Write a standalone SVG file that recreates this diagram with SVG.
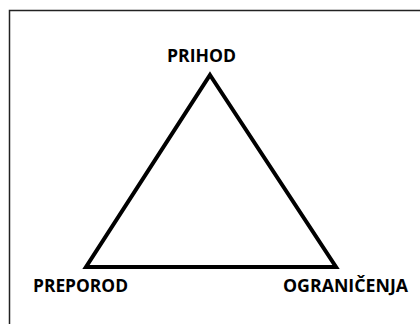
<svg xmlns="http://www.w3.org/2000/svg" width="420" height="324" viewBox="0 0 420 324">
<style>
.lbl{font-family:"Open Sans","Liberation Sans",sans-serif;font-weight:700;font-size:18px;fill:#000}
.edge{fill:none;stroke:#000;stroke-width:4;stroke-linejoin:miter}
</style>
<rect x="0" y="0" width="420" height="324" fill="#fff"/>
<rect x="9.5" y="10.5" width="420" height="320" fill="none" stroke="#222" stroke-width="1.5"/>
<g id="connectors">
<path class="edge" d="M210,75 L336,267 L86,267 Z"/>
</g>
<g id="prihod"><text class="lbl" x="167" y="62" textLength="69" lengthAdjust="spacingAndGlyphs">PRIHOD</text></g>
<g id="preporod"><text class="lbl" x="33" y="292" textLength="95" lengthAdjust="spacingAndGlyphs">PREPOROD</text></g>
<g id="ogranicenja"><text class="lbl" x="283" y="292" textLength="125" lengthAdjust="spacingAndGlyphs">OGRANIČENJA</text></g>
</svg>
